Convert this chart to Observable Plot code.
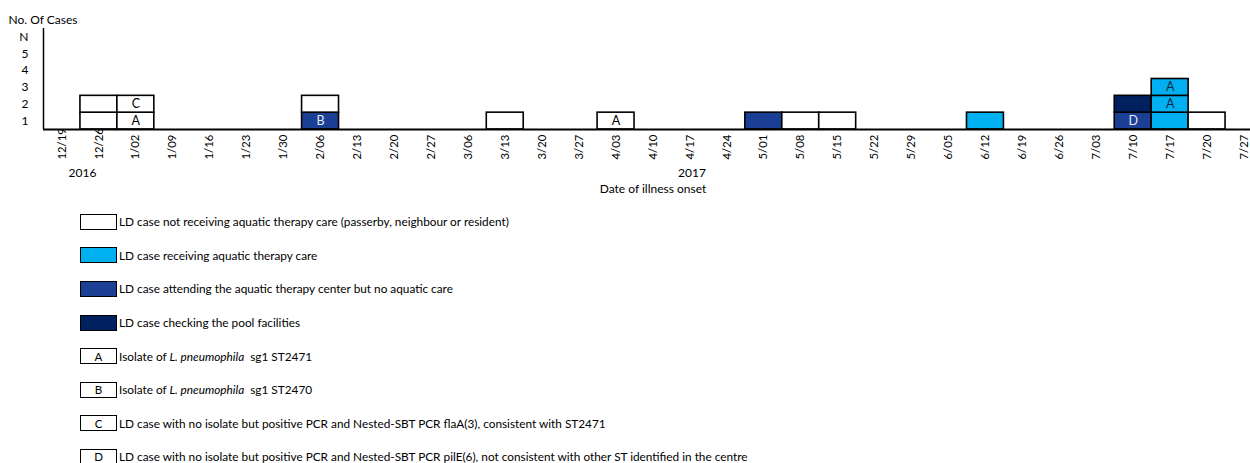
<!DOCTYPE html>
<html>
<head>
<meta charset="utf-8">
<script src="https://cdn.jsdelivr.net/npm/d3@7"></script>
<script src="https://cdn.jsdelivr.net/npm/@observablehq/plot@0.6"></script>
<style>
  html, body { margin: 0; padding: 0; background: #fff; overflow: hidden; }
  body { width: 1250px; height: 463px; font-family: Lato, "Open Sans", sans-serif; color: #000; }
  #chart { width: 1262px; }
  #chart svg { display: block; max-width: none !important; }
  #legend { position: relative; padding-top: 5px; }
  .row { height: 33.6px; display: flex; align-items: center; font-size: 11.8px; }
  .sw { margin-left: 80px; width: 35px; height: 14px; border: 1.3px solid #000; box-sizing: content-box;
        display: flex; align-items: center; justify-content: center; font-size: 11.5px; }
  .lab { margin-left: 2px; white-space: nowrap; }
</style>
</head>
<body>
<div id="chart"></div>
<div id="legend"></div>
<script>
// ---- data ----
const weeks = ["12/19","12/26","1/02","1/09","1/16","1/23","1/30","2/06","2/13","2/20","2/27","3/06","3/13","3/20","3/27","4/03","4/10","4/17","4/24","5/01","5/08","5/15","5/22","5/29","6/05","6/12","6/19","6/26","7/03","7/10","7/17","7/20","7/27"];
const yearLabels = ["2016", "2017"];
const yearFirstWeek = ["12/19", "1/02"];
const yearLastWeek = ["12/26", "7/27"];
const yTickLabels = ["1","2","3","4","5","N"];

const caseWeek  = ["12/26","12/26","1/02","1/02","2/06","2/06","3/13","4/03","5/01","5/08","5/15","6/12","7/10","7/10","7/17","7/17","7/17","7/20"];
const caseGroup = ["not","not","not","not","attending","not","not","not","attending","not","not","receiving","attending","checking","receiving","receiving","receiving","not"];
const caseLetter = ["","","A","C","B","","","A","","","","","D","","","A","A",""];

const groupKeys = ["not","receiving","attending","checking"];
const groupNames = [
  "LD case not receiving aquatic therapy care (passerby, neighbour or resident)",
  "LD case receiving aquatic therapy care",
  "LD case attending the aquatic therapy center but no aquatic care",
  "LD case checking the pool facilities"
];
const groupColors = ["#ffffff", "#00b0f0", "#1a3f94", "#002060"];
const groupTextColors = ["#000000", "#0a2a4a", "#e8ecf5", "#e8ecf5"];

const letterKeys = ["A","B","C","D"];
const letterNames = [
  "Isolate of <i>L. pneumophila</i>&nbsp; sg1 ST2471",
  "Isolate of <i>L. pneumophila</i>&nbsp; sg1 ST2470",
  "LD case with no isolate but positive PCR and Nested-SBT PCR flaA(3), consistent with ST2471",
  "LD case with no isolate but positive PCR and Nested-SBT PCR pilE(6), not consistent with other ST identified in the centre"
];

// ---- build table ----
const stackCount = new Map();
const cases = caseWeek.map((w, k) => {
  const level = stackCount.get(w) || 0;
  stackCount.set(w, level + 1);
  return { week: w, idx: weeks.indexOf(w), level, group: caseGroup[k], letter: caseLetter[k] };
});
const years = yearLabels.map((y, k) => ({
  year: y,
  mid: (weeks.indexOf(yearFirstWeek[k]) + weeks.indexOf(yearLastWeek[k]) + 1) / 2
}));
const textColor = new Map(groupKeys.map((g, k) => [g, groupTextColors[k]]));

const font = "Lato, 'Open Sans', sans-serif";
const chart = Plot.plot({
  width: 1262,
  height: 200,
  marginLeft: 43,
  marginRight: 0,
  marginTop: 28,
  marginBottom: 71,
  style: { fontFamily: font, fontSize: "12px", background: "white", color: "black", overflow: "visible", maxWidth: "none" },
  x: { type: "linear", domain: [0, weeks.length], axis: null },
  y: { domain: [0, 6], axis: null },
  color: { domain: groupKeys, range: groupColors },
  marks: [
    Plot.rect(cases, {
      x1: d => d.idx, x2: d => d.idx + 1,
      y1: d => d.level, y2: d => d.level + 1,
      fill: "group", stroke: "black", strokeWidth: 1.6
    }),
    Plot.text(cases.filter(d => d.letter), {
      x: d => d.idx + 0.5, y: d => d.level + 0.5, text: "letter",
      fill: d => textColor.get(d.group), fontSize: 12.5
    }),
    Plot.ruleY([0], { stroke: "black", strokeWidth: 2 }),
    Plot.ruleX([0], { y1: 0, y2: 6, stroke: "black", strokeWidth: 1.5 }),
    Plot.text(yTickLabels, { x: 0, y: (d, i) => i + 0.5, text: d => d, dx: -15, textAnchor: "end", fontSize: 12 }),
    Plot.text(weeks, {
      x: (d, i) => i + 0.5, text: d => d, frameAnchor: "bottom", lineAnchor: "middle",
      rotate: -90, textAnchor: "start", dy: 30, fontSize: 11.3
    }),
    Plot.text(years, { x: "mid", text: "year", frameAnchor: "bottom", lineAnchor: "middle", dy: 44, dx: 2, fontSize: 12 }),
    Plot.text(["Date of illness onset"], { frameAnchor: "bottom", lineAnchor: "middle", text: d => d, dy: 60, fontSize: 12 }),
    Plot.text(["No. Of Cases"], { frameAnchor: "top-left", lineAnchor: "middle", text: d => d, dx: -35, dy: -8, textAnchor: "start", fontSize: 12 })
  ]
});
chart.style.maxWidth = "none";
document.getElementById("chart").appendChild(chart);

// ---- legend ----
const legend = document.getElementById("legend");
groupKeys.forEach((g, k) => {
  const row = document.createElement("div");
  row.className = "row";
  row.innerHTML = `<div class="sw" style="background:${groupColors[k]}"></div><div class="lab">${groupNames[k]}</div>`;
  legend.appendChild(row);
});
letterKeys.forEach((l, k) => {
  const row = document.createElement("div");
  row.className = "row";
  row.innerHTML = `<div class="sw" style="background:#fff">${l}</div><div class="lab">${letterNames[k]}</div>`;
  legend.appendChild(row);
});
</script>
</body>
</html>
